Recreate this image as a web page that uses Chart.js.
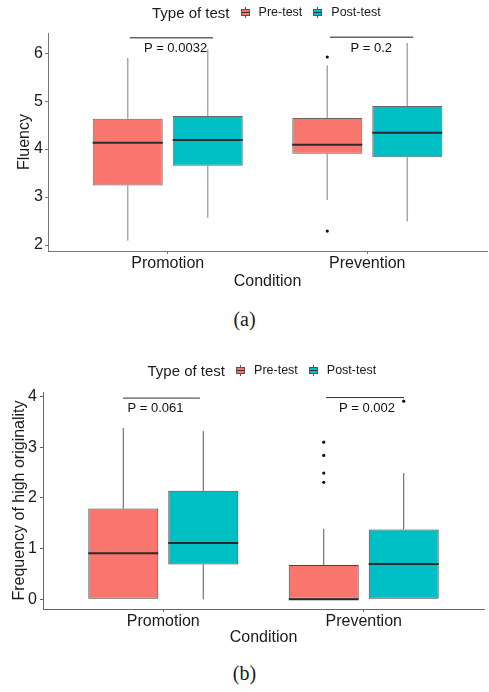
<!DOCTYPE html>
<html>
<head>
<meta charset="utf-8">
<script src="https://cdn.jsdelivr.net/npm/chart.js@4.4.1/dist/chart.umd.min.js"></script>
<style>
  body { margin: 0; background: #fff; width: 489px; height: 692px; position: relative; overflow: hidden;
         font-family: "Liberation Sans", Arial, sans-serif; color: #1a1a1a; }
  .panel { position: absolute; left: 0; width: 489px; }
  .legend { position: absolute; display: flex; align-items: center; white-space: nowrap; line-height: 1; }
  .legend .ttl { font-size: 15px; margin-right: 11px; }
  .legend .lab { font-size: 12.5px; margin-right: 11px; }
  .key { display: inline-block; position: relative; width: 9px; height: 11px; margin-right: 9px; }
  .key::before { content: ''; position: absolute; left: 4px; top: 0; width: 1px; height: 11px; background: #555; }
  .key i { position: absolute; left: 0; top: 2px; width: 7px; height: 5px; border: 1px solid #555;
           background: linear-gradient(to bottom, var(--c) 0 2px, #333 2px 3px, var(--c) 3px); }
  .caption { position: absolute; width: 489px; text-align: center; font-family: "Liberation Serif", "Times New Roman", serif;
             font-size: 20px; line-height: 1; }
</style>
</head>
<body>
<div class="panel" style="top:0;height:300px"><canvas id="fluencyChart" width="489" height="300"></canvas></div>
<div class="legend" style="left:152px;top:5px">
  <span class="ttl">Type of test</span>
  <span class="key" style="--c:#F8766D"><i></i></span><span class="lab">Pre-test</span>
  <span class="key" style="--c:#00BFC4"><i></i></span><span class="lab">Post-test</span>
</div>
<div class="caption" style="top:309px">(a)</div>

<div class="panel" style="top:345px;height:310px"><canvas id="originalityChart" width="489" height="310"></canvas></div>
<div class="legend" style="left:147.5px;top:363px">
  <span class="ttl">Type of test</span>
  <span class="key" style="--c:#F8766D"><i></i></span><span class="lab">Pre-test</span>
  <span class="key" style="--c:#00BFC4"><i></i></span><span class="lab">Post-test</span>
</div>
<div class="caption" style="top:663px">(b)</div>

<script>
// categories and series
const conditions = ['Promotion', 'Prevention'];
const testTypes = ['Pre-test', 'Post-test'];

// (a) fluency: [min, q1, median, q3, max] per condition
const fluencyPre  = [[2.09, 3.24, 4.13, 4.63, 5.90], [2.94, 3.90, 4.09, 4.65, 5.75]];
const fluencyPost = [[2.57, 3.65, 4.19, 4.69, 6.08], [2.49, 3.83, 4.34, 4.90, 6.21]];
const fluencyPreOutliers  = [[], [5.92, 2.29]];
const fluencyPostOutliers = [[], []];
const fluencyPLabels = ['P = 0.0032', 'P = 0.2'];
const fluencyTicks = [2, 3, 4, 5, 6];

// (b) frequency of high originality
const origPre  = [[0, 0, 0.91, 1.79, 3.38], [0, 0, 0, 0.68, 1.39]];
const origPost = [[0, 0.69, 1.11, 2.14, 3.32], [0, 0, 0.70, 1.38, 2.49]];
const origPreOutliers  = [[], [3.10, 2.84, 2.49, 2.31]];
const origPostOutliers = [[], [3.91]];
const origPLabels = ['P = 0.061', 'P = 0.002'];
const origTicks = [0, 1, 2, 3, 4];

const colors = ['#F8766D', '#00BFC4'];
const FONT = '"Liberation Sans", Arial, sans-serif';

// whiskers, medians, outliers and the p-value brackets
function boxPlugin(cfg) {
  return {
    id: 'boxExtras',
    beforeDatasetsDraw(chart) {
      const ctx = chart.ctx, y = chart.scales.y;
      ctx.save();
      ctx.strokeStyle = cfg.whiskerColor;
      ctx.lineWidth = cfg.whiskerWidth;
      cfg.stats.forEach((series, d) => {
        const meta = chart.getDatasetMeta(d);
        series.forEach((s, i) => {
          const bar = meta.data[i];
          ctx.beginPath();
          ctx.moveTo(bar.x, y.getPixelForValue(s[4]));
          ctx.lineTo(bar.x, y.getPixelForValue(s[3]));
          ctx.moveTo(bar.x, y.getPixelForValue(s[1]));
          ctx.lineTo(bar.x, y.getPixelForValue(s[0]));
          ctx.stroke();
        });
      });
      ctx.restore();
    },
    afterDatasetsDraw(chart) {
      const ctx = chart.ctx, x = chart.scales.x, y = chart.scales.y;
      ctx.save();
      cfg.stats.forEach((series, d) => {
        const meta = chart.getDatasetMeta(d);
        series.forEach((s, i) => {
          const bar = meta.data[i];
          const py = y.getPixelForValue(s[2]);
          ctx.strokeStyle = '#2a2a2a';
          ctx.lineWidth = 2;
          ctx.beginPath();
          ctx.moveTo(bar.x - bar.width / 2, py);
          ctx.lineTo(bar.x + bar.width / 2, py);
          ctx.stroke();
          ctx.fillStyle = '#111';
          cfg.outliers[d][i].forEach(v => {
            ctx.beginPath();
            ctx.arc(bar.x, y.getPixelForValue(v), 1.6, 0, Math.PI * 2);
            ctx.fill();
          });
        });
      });
      // brackets
      ctx.strokeStyle = cfg.bracketColor;
      ctx.lineWidth = cfg.bracketWidth;
      ctx.fillStyle = '#111';
      ctx.font = '13px ' + FONT;
      ctx.textAlign = 'center';
      ctx.textBaseline = 'middle';
      cfg.brackets.forEach((b, i) => {
        const by = y.getPixelForValue(b.y);
        ctx.beginPath();
        ctx.moveTo(x.getPixelForValue(b.x0), by);
        ctx.lineTo(x.getPixelForValue(b.x1), by);
        ctx.stroke();
        ctx.fillText(cfg.pLabels[i], x.getPixelForValue(b.tx), y.getPixelForValue(b.ty));
      });
      ctx.restore();
    }
  };
}

function makeBoxChart(id, c) {
  const ctx = document.getElementById(id).getContext('2d');
  return new Chart(ctx, {
    type: 'bar',
    data: {
      datasets: c.stats.map((series, d) => ({
        label: testTypes[d],
        data: series.map((s, i) => ({ x: i + 1, y: [s[1], s[3]] })),
        backgroundColor: colors[d],
        borderColor: c.boxBorder,
        borderWidth: 1,
        borderSkipped: false,
        categoryPercentage: c.catPct,
        barPercentage: 0.875
      }))
    },
    options: {
      responsive: false,
      animation: false,
      layout: { padding: c.padding },
      plugins: { legend: { display: false }, tooltip: { enabled: false } },
      scales: {
        x: {
          type: 'linear',
          min: 0.4,
          max: 2.6,
          offset: false,
          afterBuildTicks: s => { s.ticks = conditions.map((n, i) => ({ value: i + 1 })); },
          ticks: {
            callback: (v, i) => conditions[i],
            font: { family: FONT, size: 16 },
            color: '#1a1a1a',
            padding: 0
          },
          grid: { offset: false, drawOnChartArea: false, tickLength: 3, color: c.axisColor },
          border: { color: c.axisColor, width: 1 },
          title: {
            display: true, text: 'Condition', color: '#1a1a1a',
            font: { family: FONT, size: 16 }, padding: { top: 0, bottom: c.xTitlePad }
          },
          afterFit: s => { s.height = c.xHeight; }
        },
        y: {
          min: c.yMin,
          max: c.yMax,
          afterBuildTicks: s => { s.ticks = c.ticks.map(v => ({ value: v })); },
          ticks: { font: { family: FONT, size: 16 }, color: '#1a1a1a', padding: c.yTickPad },
          grid: { drawOnChartArea: false, tickLength: 3, color: c.axisColor },
          border: { color: c.axisColor, width: 1 },
          title: {
            display: true, text: c.yTitle, color: '#1a1a1a',
            font: { family: FONT, size: c.yTitleSize }, padding: { top: c.yTitlePad, bottom: 0 }
          },
          afterFit: s => { s.width = c.yWidth; }
        }
      }
    },
    plugins: [boxPlugin(c)]
  });
}

makeBoxChart('fluencyChart', {
  stats: [fluencyPre, fluencyPost],
  outliers: [fluencyPreOutliers, fluencyPostOutliers],
  pLabels: fluencyPLabels,
  ticks: fluencyTicks,
  yMin: 1.875, yMax: 6.42,
  yTitle: 'Fluency', yTitleSize: 16, yTitlePad: 15,
  yWidth: 48, yTickPad: 2, xHeight: 49, xTitlePad: 9,
  padding: { top: 33, right: 2, left: 0, bottom: 0 },
  catPct: 0.802,
  boxBorder: '#666', axisColor: '#777',
  whiskerColor: '#a8a8a8', whiskerWidth: 1.5,
  bracketColor: '#666', bracketWidth: 1.5,
  brackets: [
    { x0: 0.81, x1: 1.227, y: 6.32, tx: 1.039, ty: 6.10 },
    { x0: 1.813, x1: 2.23, y: 6.33, tx: 2.02, ty: 6.10 }
  ]
});

makeBoxChart('originalityChart', {
  stats: [origPre, origPost],
  outliers: [origPreOutliers, origPostOutliers],
  pLabels: origPLabels,
  ticks: origTicks,
  yMin: -0.19, yMax: 4.09,
  yTitle: 'Frequency of high originality', yTitleSize: 16, yTitlePad: 10,
  yWidth: 43, yTickPad: 3, xHeight: 46, xTitlePad: 8,
  padding: { top: 47, right: 5, left: 0, bottom: 0 },
  catPct: 0.798,
  boxBorder: '#444', axisColor: '#666',
  whiskerColor: '#555', whiskerWidth: 1,
  bracketColor: '#333', bracketWidth: 1,
  brackets: [
    { x0: 0.799, x1: 1.183, y: 3.97, tx: 0.961, ty: 3.77 },
    { x0: 1.812, x1: 2.201, y: 3.98, tx: 2.016, ty: 3.77 }
  ]
});
</script>
</body>
</html>
